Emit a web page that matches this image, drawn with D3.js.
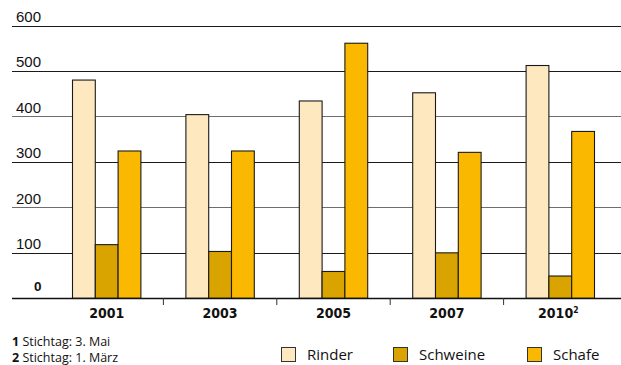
<!DOCTYPE html>
<html>
<head>
<meta charset="utf-8">
<script src="https://cdn.jsdelivr.net/npm/d3@7"></script>
<style>
  html, body { margin: 0; padding: 0; background: #fff; }
  svg { display: block; }
</style>
</head>
<body>
<svg id="chart" width="621" height="365"></svg>
<script>
const years = ["2001", "2003", "2005", "2007", "2010"];
const yearSup = ["", "", "", "", "2"];
const seriesNames = ["Rinder", "Schweine", "Schafe"];
const rinder = [480, 404, 434, 452, 512];
const schweine = [118, 103, 59, 100, 49];
const schafe = [324, 324, 561, 321, 367];
const yTicks = [0, 100, 200, 300, 400, 500, 600];
const colors = ["#FDE8C0", "#D9A400", "#FBB800"];
const footnotes = [["1", " Stichtag: 3. Mai"], ["2", " Stichtag: 1. März"]];

const values = [rinder, schweine, schafe];
const svg = d3.select("#chart");

const x0 = d3.scaleBand().domain(years).range([50, 617]).paddingInner(0).paddingOuter(0);
const x1 = d3.scaleBand().domain(seriesNames).range([0, 68.4]);
const y = d3.scaleLinear().domain([0, 600]).range([298.3, 25.5]);

// gridlines
svg.append("g").selectAll("line").data(yTicks.filter(d => d > 0)).join("line")
  .attr("x1", 12).attr("x2", 621)
  .attr("y1", d => Math.round(y(d)) + 0.5).attr("y2", d => Math.round(y(d)) + 0.5)
  .attr("stroke", d => (d === 400 || d === 200) ? "#6e6e6e" : "#1a1a1a")
  .attr("stroke-width", 1.1);

// y labels
svg.append("g").selectAll("text").data(yTicks).join("text")
  .attr("x", d => d === 0 ? 34 : 16)
  .attr("y", d => d === 0 ? 291 : y(d) - 3.5)
  .style("font-family", "'Liberation Sans', Arial, sans-serif")
  .style("font-size", d => d === 0 ? "13.5px" : "15px")
  .style("font-weight", d => d === 0 ? "bold" : "normal")
  .attr("fill", "#111")
  .text(d => d);

// bars
const groupCenterOffset = (x0.bandwidth() - 68.4) / 2;
const groups = svg.append("g").selectAll("g").data(years).join("g")
  .attr("transform", d => `translate(${x0(d) + groupCenterOffset},0)`);
groups.selectAll("rect").data((d, i) => seriesNames.map((s, j) => ({ s, v: values[j][i], c: colors[j] }))).join("rect")
  .attr("x", d => x1(d.s))
  .attr("width", x1.bandwidth())
  .attr("y", d => y(d.v))
  .attr("height", d => y(0) - y(d.v))
  .attr("fill", d => d.c)
  .attr("stroke", "#1a1a1a")
  .attr("stroke-width", 1.1);

// zero line
svg.append("line").attr("x1", 12).attr("x2", 621)
  .attr("y1", 298.5).attr("y2", 298.5).attr("stroke", "#111").attr("stroke-width", 1.5);

// x ticks between groups
svg.append("g").selectAll("line").data(years.slice(1)).join("line")
  .attr("x1", d => x0(d)).attr("x2", d => x0(d))
  .attr("y1", 298).attr("y2", 305)
  .attr("stroke", "#333").attr("stroke-width", 1);

// x labels
const xl = svg.append("g").selectAll("text").data(years).join("text")
  .attr("x", (d, i) => x0(d) + x0.bandwidth() / 2 + (yearSup[i] ? -2 : 0))
  .attr("y", 318)
  .attr("text-anchor", "middle")
  .style("font-family", "'Liberation Sans Narrow', 'DejaVu Sans Condensed', 'Arial Narrow', sans-serif")
  .style("font-size", "14px")
  .style("font-weight", "bold")
  .attr("fill", "#111");
xl.append("tspan").text(d => d);
xl.append("tspan").attr("dy", -5).style("font-size", "8.5px").text((d, i) => yearSup[i]);

// footnotes
svg.append("g").selectAll("text").data(footnotes).join("text")
  .attr("x", 12).attr("y", (d, i) => 346 + i * 16)
  .style("font-family", "'Open Sans', Arial, sans-serif")
  .style("font-size", "12.5px")
  .attr("fill", "#111")
  .each(function(d) {
    const t = d3.select(this);
    t.append("tspan").style("font-weight", "bold").text(d[0]);
    t.append("tspan").text(d[1]);
  });

// legend
const legX = [281, 393, 527];
const leg = svg.append("g").selectAll("g").data(seriesNames).join("g")
  .attr("transform", (d, i) => `translate(${legX[i]},347)`);
leg.append("rect").attr("x", 0.5).attr("y", 0.5).attr("width", 14).attr("height", 14)
  .attr("fill", (d, i) => colors[i]).attr("stroke", "#333").attr("stroke-width", 1);
leg.append("text").attr("x", 26).attr("y", 12.5)
  .style("font-family", "'Open Sans', Arial, sans-serif")
  .style("font-size", "15px")
  .attr("fill", "#111")
  .text(d => d);
</script>
</body>
</html>
